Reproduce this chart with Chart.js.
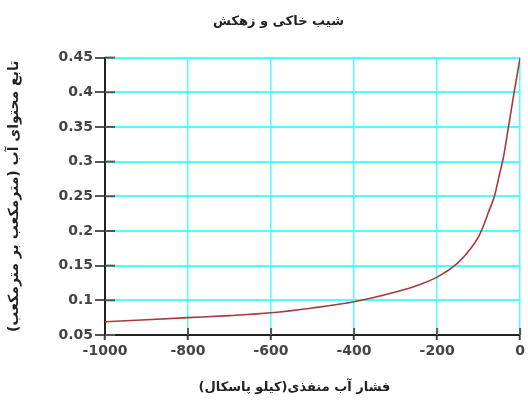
<!DOCTYPE html>
<html><head><meta charset="utf-8">
<script src="https://cdn.jsdelivr.net/npm/chart.js@4"></script>
<style>html,body{margin:0;padding:0;background:#fff}</style>
</head><body>
<canvas id="c" width="528" height="403"></canvas>
<script>
const chartTitle = 'شیب خاکی و زهکش';
const xTitle = 'فشار آب منفذی(کیلو پاسکال)\u200F\u00A0\u00A0\u00A0\u00A0\u00A0\u00A0\u00A0\u00A0';
const yTitle = 'تابع محتوای آب (مترمکعب بر مترمکعب)\u200F';

const pressure =     [-1000, -900, -800, -700, -600, -500, -400, -300, -250, -200, -150, -120, -100, -90, -75, -62, -50, -40, -28, -15, 0];
const waterContent = [0.069, 0.072, 0.075, 0.078, 0.082, 0.089, 0.098, 0.112, 0.121, 0.1335, 0.154, 0.174, 0.192, 0.205, 0.229, 0.25, 0.281, 0.307, 0.35, 0.398, 0.45];

const xTicks = [-1000, -800, -600, -400, -200, 0];
const xTickLabels = ['-1000', '-800', '-600', '-400', '-200', '0'];
const yTicks = [0.05, 0.1, 0.15, 0.2, 0.25, 0.3, 0.35, 0.4, 0.45];
const yTickLabels = ['0.05', '0.1', '0.15', '0.2', '0.25', '0.3', '0.35', '0.4', '0.45'];

const tickFont = {family: 'DejaVu Sans', size: 14, weight: 'bold'};
const titleFont = {family: 'DejaVu Sans', size: 13, weight: 'bold'};
const yTitleFont = {family: 'DejaVu Sans', size: 14, weight: 'bold'};

const innerTicks = {
  id: 'innerTicks',
  afterDraw(chart) {
    const {ctx, chartArea} = chart;
    const x = chart.scales.x, y = chart.scales.y;
    ctx.save();
    ctx.strokeStyle = '#555';
    ctx.lineWidth = 2;
    y.ticks.forEach((t, i) => {
      const py = y.getPixelForTick(i);
      ctx.beginPath(); ctx.moveTo(chartArea.left, py); ctx.lineTo(chartArea.left + 10, py); ctx.stroke();
    });
    x.ticks.forEach((t, i) => {
      if (i === 0) return;
      const px = x.getPixelForTick(i);
      ctx.beginPath(); ctx.moveTo(px, chartArea.bottom); ctx.lineTo(px, chartArea.bottom - 7); ctx.stroke();
    });
    ctx.restore();
  }
};

new Chart(document.getElementById('c'), {
  type: 'line',
  data: {
    datasets: [{
      data: pressure.map((p, i) => ({x: p, y: waterContent[i]})),
      borderColor: '#a83a3a',
      borderWidth: 1.6,
      pointRadius: 0,
      fill: false,
      cubicInterpolationMode: 'monotone'
    }]
  },
  plugins: [innerTicks],
  options: {
    responsive: false,
    animation: false,
    devicePixelRatio: 1,
    layout: {padding: {left: 32, right: 3, top: 0, bottom: 0}},
    plugins: {
      legend: {display: false},
      tooltip: {enabled: false},
      title: {display: true, text: chartTitle, color: '#222', font: titleFont, padding: {top: 14, bottom: 28}}
    },
    scales: {
      x: {
        type: 'linear', min: -1000, max: 0,
        afterBuildTicks: s => { s.ticks = xTicks.map(v => ({value: v})); },
        afterFit: s => { s.height = 68; },
        ticks: {callback: (v, i) => xTickLabels[i], color: '#444', font: tickFont, padding: 3, maxRotation: 0, autoSkip: false},
        grid: {color: '#4dffff', lineWidth: 1.5, tickLength: 5, tickColor: '#444', tickWidth: 2},
        border: {color: '#222', width: 2},
        title: {display: true, text: xTitle, color: '#222', font: titleFont, padding: {top: 0, bottom: 8}}
      },
      y: {
        type: 'linear', min: 0.05, max: 0.45,
        afterBuildTicks: s => { s.ticks = yTicks.map(v => ({value: v})); },
        afterFit: s => { s.width = 73; },
        ticks: {callback: (v, i) => yTickLabels[i], color: '#444', font: tickFont, padding: 2, autoSkip: false},
        grid: {color: '#4dffff', lineWidth: 2, tickLength: 10, tickColor: '#555', tickWidth: 2},
        border: {color: '#222', width: 2},
        title: {display: true, text: yTitle, color: '#222', font: yTitleFont, padding: {top: -26, bottom: 0}}
      }
    }
  }
});
</script>
</body></html>
